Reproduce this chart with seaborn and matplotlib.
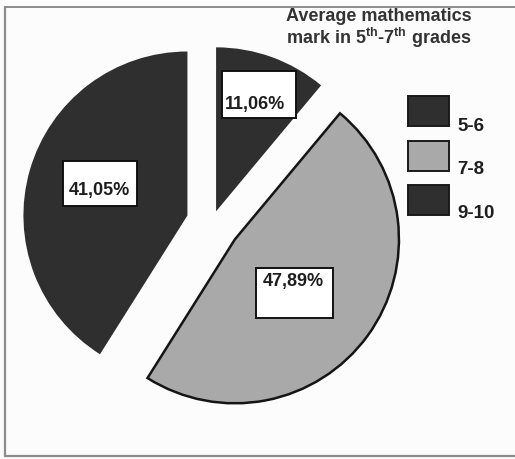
import matplotlib
matplotlib.use('Agg')
import matplotlib.pyplot as plt
import seaborn as sns
import numpy as np
from matplotlib.patches import Rectangle

# ---- data ----
categories = ['5-6', '7-8', '9-10']
shares = [11.06, 47.89, 41.05]
title_lines = ['Average mathematics', r'mark in 5$^{th}$-7$^{th}$ grades']

# ---- style ----
sns.set_theme(style='white')
plt.rcParams['font.family'] = ['Liberation Sans', 'DejaVu Sans']
plt.rcParams['mathtext.fontset'] = 'custom'
plt.rcParams['mathtext.bf'] = 'Liberation Sans:bold'
plt.rcParams['mathtext.rm'] = 'Liberation Sans:bold'
plt.rcParams['mathtext.it'] = 'Liberation Sans:bold'
plt.rcParams['mathtext.default'] = 'bf'

W, H = 515, 459
R = 164.0            # pie radius in px
CX, CY = 212.0, 222.6  # pie centre in px (image coords)

colors = ['#2f2f2f', '#a9a9a9', '#2f2f2f']
edgecolors = ['#2f2f2f', '#151515', '#2f2f2f']
edgewidths = [0.0, 1.8, 0.0]
explode = [0.073, 0.173, 0.156]
label_r = [0.69, 0.44, 0.56]
# label box extents around text centre in px: left, right, top, bottom (image y downward)
box_px = [(-33, 41, -34, 13), (-37.5, 39.5, -13.5, 36.5), (-36.5, 37.5, -29.5, 15.5)]
text_color = '#1e1e1e'

fig = plt.figure(figsize=(W / 100, H / 100), dpi=100, facecolor='#fcfcfc')
ax = fig.add_axes([0, 0, 1, 1])
ax.set_facecolor('none')

wedges, _ = ax.pie(shares, colors=colors, explode=explode, startangle=90,
                   counterclock=False, radius=1.0)
for w, ec, lw in zip(wedges, edgecolors, edgewidths):
    w.set_edgecolor(ec)
    w.set_linewidth(lw)

for i, w in enumerate(wedges):
    mid = np.deg2rad((w.theta1 + w.theta2) / 2)
    cx, cy = w.center
    tx = cx + label_r[i] * np.cos(mid)
    ty = cy + label_r[i] * np.sin(mid)
    l, r, t, b = box_px[i]
    ax.add_patch(Rectangle((tx + l / R, ty - b / R), (r - l) / R, (b - t) / R,
                           facecolor='white', edgecolor='#111111', linewidth=1.4, zorder=2))
    lab = f"{shares[i]:.2f}%".replace('.', ',')
    ax.text(tx, ty, lab, ha='center', va='center', fontsize=13, fontweight='bold',
            color=text_color, zorder=3)

ax.set_xlim(-CX / R, (W - CX) / R)
ax.set_ylim(-(H - CY) / R, CY / R)
ax.set_aspect('equal')
ax.axis('off')

# overlay in pixel coordinates for frame, title, legend
ov = fig.add_axes([0, 0, 1, 1], zorder=5)
ov.set_xlim(0, W)
ov.set_ylim(H, 0)
ov.axis('off')
ov.set_facecolor('none')

frame_c = '#8c8c8c'
ov.plot([5, 5], [7, 456], color=frame_c, lw=1.6)
ov.plot([5, W], [7, 7], color=frame_c, lw=1.4)
ov.plot([5, W], [456, 456], color=frame_c, lw=1.6)

ov.text(379, 21, title_lines[0], ha='center', va='baseline', fontsize=13,
        fontweight='bold', color='#333333')
ov.text(379, 44, title_lines[1], ha='center', va='baseline', fontsize=13,
        fontweight='bold', color='#333333')

for i, cat in enumerate(categories):
    top = 96 + 44.5 * i
    ov.add_patch(Rectangle((408, top), 41, 30, facecolor=colors[i],
                           edgecolor='#1a1a1a', linewidth=1.4))
    ov.text(457, 131 + 43.5 * i, cat, ha='left', va='baseline', fontsize=13.5,
            fontweight='bold', color=text_color)

fig.savefig('out.png', dpi=100, facecolor=fig.get_facecolor())
